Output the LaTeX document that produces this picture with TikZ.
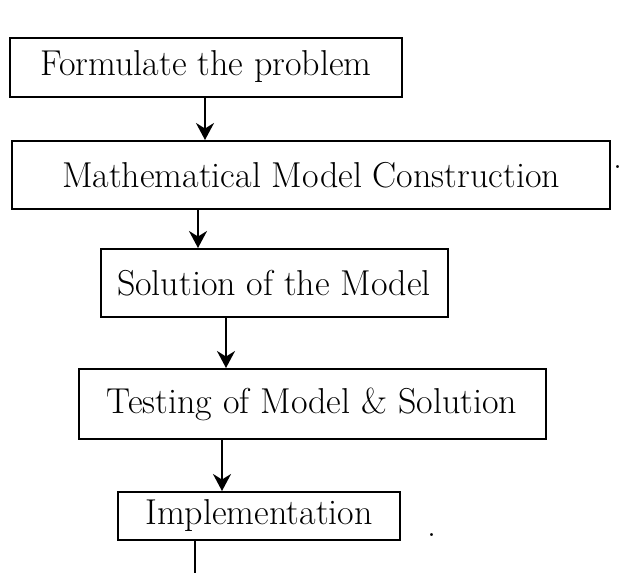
\documentclass[tikz,border=0pt]{standalone}
\usetikzlibrary{arrows.meta}
\tikzset{
  stepbox/.style={draw,line width=2pt,inner sep=0pt,font=\fontsize{36}{42}\selectfont},
  flow/.style={line width=2pt,-{Stealth[length=17pt,width=18pt]}}
}
\begin{document}
\begin{tikzpicture}[x=1pt,y=-1pt]
  \useasboundingbox[fill=white] (0,0) rectangle (628,573);

  \node[stepbox,minimum width=392pt,minimum height=59pt] (formulate) at (206,67) {Formulate the problem};
  \node[stepbox,minimum width=598pt,minimum height=68pt] (construct) at (311,175) {Mathematical Model Construction};
  \node[stepbox,minimum width=347pt,minimum height=68pt] (solve) at (274,283) {Solution of the Model};
  \node[stepbox,minimum width=467pt,minimum height=70pt] (testing) at (312,404) {Testing of Model \& Solution};
  \node[stepbox,minimum width=282pt,minimum height=48pt] (implement) at (259,516) {Implementation};

  \node[font=\fontsize{36}{42}\selectfont,inner sep=0pt,anchor=base] (stop2) at (618,168) {.};
  \node[font=\fontsize{36}{42}\selectfont,inner sep=0pt,anchor=base] (stop5) at (432,536) {.};
  \coordinate (tail) at (195,573);

\draw[flow] (formulate.south -| 205,0) -- (construct.north -| 205,0);
\draw[flow] (construct.south -| 198,0) -- (solve.north -| 198,0);
\draw[flow] (solve.south -| 226,0) -- (testing.north -| 226,0);
\draw[flow] (testing.south -| 222,0) -- (implement.north -| 222,0);
\draw[line width=2pt] (implement.south -| tail) -- (tail);
\end{tikzpicture}
\end{document}
